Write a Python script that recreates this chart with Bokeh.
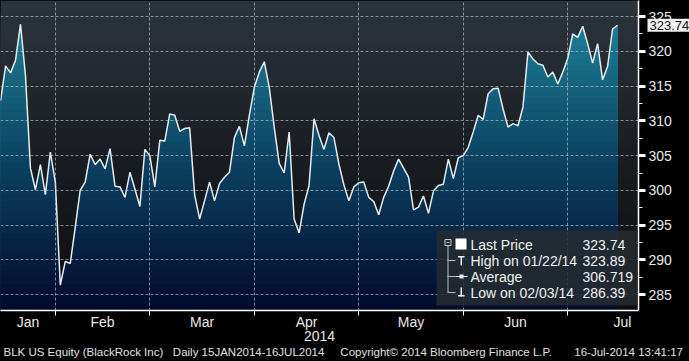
import numpy as np
from bokeh.plotting import figure
from bokeh.models import (Range1d, FixedTicker, Label, BoxAnnotation, Title,
                          GlobalInlineStyleSheet)
from bokeh.embed import file_html
from bokeh.resources import INLINE

# ---------------- data (BLK US Equity, daily close, 15JAN2014-16JUL2014) ----------------
prices = [
    312.9, 317.9, 316.9, 318.7, 323.89, 316.5, 303.2, 300.1, 303.7, 299.4,
    305.5, 301.2, 286.39, 289.8, 289.5, 294.7, 300.0, 301.2, 305.2, 303.7,
    304.5, 303.1, 306.0, 300.6, 300.5, 299.0, 302.6, 300.2, 297.7, 305.9,
    305.0, 300.5, 307.2, 307.1, 311.0, 310.8, 308.5, 308.9, 309.0, 299.4,
    295.9, 298.5, 301.2, 298.5, 301.0, 301.9, 302.6, 307.6, 309.2, 306.4,
    310.8, 314.8, 317.0, 318.5, 314.8, 309.1, 303.9, 302.5, 308.4, 295.9,
    293.9, 298.0, 300.7, 310.3, 307.9, 305.9, 308.3, 307.6, 303.8, 300.8,
    298.5, 300.5, 301.1, 301.2, 299.0, 298.4, 296.5, 299.0, 300.6, 302.8,
    304.5, 303.2, 301.9, 297.2, 297.6, 299.2, 296.7, 299.9, 300.7, 300.9,
    304.5, 301.7, 304.7, 305.0, 306.2, 308.4, 310.8, 310.2, 313.9, 314.6,
    314.7, 311.7, 309.1, 309.6, 309.3, 312.0, 319.9, 318.9, 318.2, 318.0,
    316.3, 317.0, 315.3, 317.0, 319.0, 322.5, 322.0, 323.6, 321.1, 318.3,
    321.1, 315.9, 317.8, 323.2, 323.74,
]
month_names = ["Jan", "Feb", "Mar", "Apr", "May", "Jun", "Jul"]
month_end_idx = [11, 30, 51, 72, 93, 114]          # last trading day of Jan..Jun
price_ticks = [285, 290, 295, 300, 305, 310, 315, 320, 325]
last_price = 323.74
legend_names = ["Last Price", "High on 01/22/14", "Average", "Low on 02/03/14"]
legend_values = ["323.74", "323.89", "306.719", "286.39"]
footer_texts = ["BLK US Equity (BlackRock Inc)", "Daily 15JAN2014-16JUL2014",
                "Copyright\u00a9 2014 Bloomberg Finance L.P.", "16-Jul-2014 13:41:17"]
footer_gaps = [3, 5, 7]      # non-breaking spaces between the footer parts
axis_year = "2014"

# ---------------- layout / style ----------------
FONT = "Liberation Sans"
FW, FH = 638, 310
X0, X1 = -0.02, 128.22
Y0, Y1 = 282.74, 327.30
NB = 48

idx = np.arange(len(prices), dtype=float)
vals = np.array(prices, dtype=float)

p = figure(frame_width=FW, frame_height=FH,
           x_range=Range1d(X0, X1), y_range=Range1d(Y0, Y1),
           y_axis_location="right", output_backend="svg", toolbar_location=None,
           background_fill_color="#000000", border_fill_color="#000000",
           outline_line_color=None, min_border=0)
p.min_border_left = 0
p.min_border_top = 0
p.min_border_right = 51
p.min_border_bottom = 51
p.stylesheets = [GlobalInlineStyleSheet(css="body{margin:0;background:#000;}")]


def grad(stops, frac):
    fr = [s[0] for s in stops]
    out = []
    for f in frac:
        r = np.interp(f, fr, [s[1][0] for s in stops])
        g = np.interp(f, fr, [s[1][1] for s in stops])
        b = np.interp(f, fr, [s[1][2] for s in stops])
        out.append("#%02x%02x%02x" % (int(round(r)), int(round(g)), int(round(b))))
    return out


edges = np.linspace(Y0, Y1, NB + 1)
centers = 0.5 * (edges[:-1] + edges[1:])
frac_top = (Y1 - centers) / (Y1 - Y0)
bg_stops = [(0.0, (44, 52, 60)), (0.5, (25, 29, 34)), (1.0, (11, 12, 15))]
area_stops = [(0.0, (32, 136, 156)), (0.5, (12, 68, 100)), (1.0, (2, 10, 44))]
bg_cols = grad(bg_stops, frac_top)[::-1]
area_cols = grad(area_stops, frac_top)[::-1]
tops = edges[1:][::-1]

# background gradient (nested bands, top band first)
bg = p.quad(left=X0, right=X1, bottom=Y0, top=tops, fill_color=bg_cols, line_color=None)
bg.level = "underlay"

# exact line geometry with band crossings so that each band is clipped at the line
fx, fy = [idx[0]], [vals[0]]
for i in range(len(idx) - 1):
    a, b = vals[i], vals[i + 1]
    lv = edges[(edges > min(a, b)) & (edges < max(a, b))]
    if a != b and len(lv):
        ts = np.sort((lv - a) / (b - a))
        for t in ts:
            fx.append(idx[i] + t)
            fy.append(a + t * (b - a))
    fx.append(idx[i + 1])
    fy.append(b)
fx = np.array(fx)
fy = np.array(fy)

xs_list, ys_list = [], []
for hi in tops:
    top_edge = np.minimum(fy, hi)
    xs_list.append(np.concatenate([fx, fx[::-1]]))
    ys_list.append(np.concatenate([top_edge, np.full(len(fx), Y0)]))
ar = p.patches(xs_list, ys_list, fill_color=area_cols, line_color=None)
ar.level = "underlay"

# grids
p.xgrid.ticker = FixedTicker(ticks=month_end_idx)
p.ygrid.ticker = FixedTicker(ticks=price_ticks)
for g in (p.xgrid, p.ygrid):
    g.grid_line_color = "#c9d0d6"
    g.grid_line_alpha = 0.6
    g.grid_line_dash = "3 2"
    g.grid_line_width = 1
    g.level = "glyph"

# price line
p.line(idx, vals, line_color="#e4ecf0", line_width=1.5)

# x axis: month labels centred in months, boundary ticks
bounds = [0] + month_end_idx + [month_end_idx[-1] + 22]
label_pos = [0.5 * (bounds[i] + bounds[i + 1]) for i in range(len(month_names))]
xa = p.xaxis[0]
xa.ticker = FixedTicker(ticks=label_pos, minor_ticks=month_end_idx)
xa.major_label_overrides = {float(c): n for c, n in zip(label_pos, month_names)}
xa.major_tick_line_color = None
xa.major_tick_out = 0
xa.major_tick_in = 0
xa.minor_tick_out = 5
xa.minor_tick_in = 0
xa.minor_tick_line_color = "#ffffff"
xa.axis_line_color = "#ffffff"
xa.axis_line_width = 1.5
xa.major_label_standoff = -2
xa.major_label_text_font = FONT
xa.major_label_text_font_size = "14px"
xa.major_label_text_color = "#e8e8e8"
xa.axis_label = axis_year
xa.axis_label_standoff = -2
xa.axis_label_text_font = FONT
xa.axis_label_text_font_size = "14px"
xa.axis_label_text_font_style = "normal"
xa.axis_label_text_color = "#e8e8e8"

# y axis (right)
ya = p.yaxis[0]
ya.ticker = FixedTicker(ticks=price_ticks,
                        minor_ticks=list(np.arange(price_ticks[0] - 2.5, price_ticks[-1] + 2.6, 2.5)))
ya.axis_line_color = "#ffffff"
ya.axis_line_width = 1.5
ya.major_tick_line_color = "#ffffff"
ya.major_tick_line_width = 3
ya.major_tick_out = 7
ya.major_tick_in = 0
ya.minor_tick_line_color = "#ffffff"
ya.minor_tick_out = 4
ya.minor_tick_in = 0
ya.major_label_standoff = 3
ya.major_label_text_font = FONT
ya.major_label_text_font_size = "14px"
ya.major_label_text_color = "#e8e8e8"

# footer line (one title row below the axis)
footer = ""
for k, txt in enumerate(footer_texts):
    footer += txt
    if k < len(footer_gaps):
        footer += "\u00a0" * footer_gaps[k]
p.add_layout(Title(text=footer, align="left", offset=3, standoff=0,
                   text_font=FONT, text_font_size="11.5px", text_font_style="normal",
                   text_color="#e0e0e0"), "below")


def cy(y):
    """canvas y (from top) -> screen y measured from frame bottom"""
    return FH - y


def sbox(l, r, t, b, fill, alpha=1.0, line=None):
    p.add_layout(BoxAnnotation(left=l, right=r, top=cy(t), bottom=cy(b),
                               left_units="screen", right_units="screen",
                               top_units="screen", bottom_units="screen",
                               fill_color=fill, fill_alpha=alpha,
                               line_color=line, line_alpha=1.0 if line else 0))


# last price tag, placed in the right side panel so that it is not clipped to the frame
tag = Label(x=X1 + 9 * (X1 - X0) / FW, x_units="data", y=last_price, y_units="data",
            text="%.2f" % last_price, text_baseline="middle",
            text_font=FONT, text_font_size="13px", text_color="#101010",
            background_fill_color="#f2f2f2", padding=2)
p.add_layout(tag, "right")

# legend
sbox(436, 637, 230, 305, "#262b30", 0.85)
sbox(444.5, 450.5, 239, 245, None, 0.0, "#c8c8c8")
sbox(446, 449, 241.5, 242.5, "#c8c8c8")
sbox(447, 448, 245, 292, "#b8b8b8")
for ry in (260, 276, 292):
    sbox(447, 455, ry - 0.5, ry + 0.5, "#b8b8b8")
sbox(455, 466, 238, 249, "#ffffff")
sbox(457.5, 464, 255.5, 257, "#f0f0f0")
sbox(460, 461.5, 255.5, 265, "#f0f0f0")
sbox(455, 467, 275.5, 276.5, "#f0f0f0")
sbox(459, 463, 274, 278, "#f0f0f0")
sbox(460, 461.5, 287, 296, "#f0f0f0")
sbox(457.5, 464, 294.5, 296, "#f0f0f0")
for k, (nm, vv) in enumerate(zip(legend_names, legend_values)):
    ry = 244 + 16 * k
    p.add_layout(Label(x=470, x_units="screen", y=cy(ry), y_units="screen", text=nm,
                       text_baseline="middle", text_font=FONT, text_font_size="14px",
                       text_color="#f0f0f0"))
    p.add_layout(Label(x=582, x_units="screen", y=cy(ry), y_units="screen", text=vv,
                       text_baseline="middle", text_font=FONT, text_font_size="14px",
                       text_color="#f0f0f0"))

open("out.html", "w").write(file_html(p, INLINE))
